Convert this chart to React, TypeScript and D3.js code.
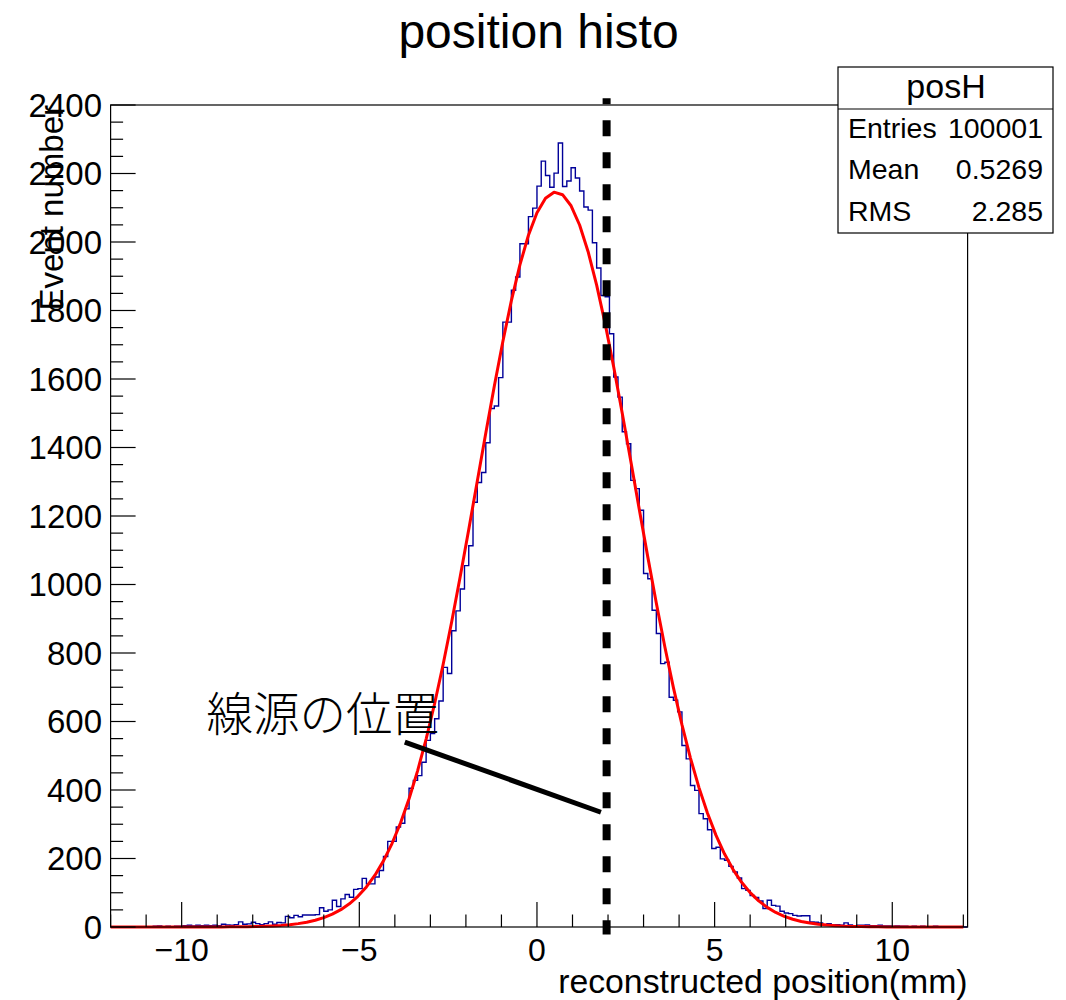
import React, { Component } from 'react';
import * as d3 from 'd3';

// posH : 201 bins of 0.12 mm starting at -12 mm
const binLow = -12;
const binWidth = 0.12;
const binCounts = [
  0, 1, 0, 0, 1, 0, 1, 0, 1, 1,
  2, 3, 1, 2, 1, 2, 2, 4, 5, 3,
  5, 4, 5, 4, 5, 4, 8, 6, 5, 7,
  15, 8, 9, 14, 10, 7, 10, 15, 8, 13,
  12, 31, 27, 34, 30, 35, 35, 35, 36, 56,
  46, 50, 78, 60, 82, 95, 87, 110, 112, 142,
  126, 126, 146, 165, 206, 250, 250, 292, 303, 345,
  405, 428, 442, 481, 545, 565, 608, 660, 758, 740,
  865, 923, 987, 1055, 1113, 1240, 1298, 1327, 1414, 1514,
  1521, 1604, 1766, 1766, 1859, 1898, 1995, 1995, 2074, 2099,
  2163, 2236, 2194, 2160, 2201, 2289, 2162, 2178, 2217, 2187,
  2149, 2102, 2093, 1998, 1924, 1844, 1840, 1732, 1606, 1547,
  1446, 1411, 1304, 1280, 1217, 1032, 1017, 925, 857, 769,
  773, 671, 662, 628, 530, 491, 413, 399, 331, 316,
  284, 229, 233, 199, 195, 177, 161, 143, 112, 107,
  92, 86, 76, 54, 78, 63, 61, 46, 41, 39,
  34, 32, 33, 33, 15, 14, 12, 7, 10, 6,
  7, 5, 12, 6, 4, 5, 5, 6, 4, 4,
  5, 3, 3, 2, 3, 2, 2, 1, 2, 1,
  2, 1, 1, 2, 1, 0, 1, 1, 0, 1,
  0
];

// gaus fit parameters
const fitConstant = 2146;
const fitMean = 0.53;
const fitSigma = 2.21;
const fitRange = [-12, 12];

const xMajorTicks = [-10, -5, 0, 5, 10];
const xTickLabels = ['\u221210', '\u22125', '0', '5', '10'];
const yMajorTicks = [0, 200, 400, 600, 800, 1000, 1200, 1400, 1600, 1800, 2000, 2200, 2400];

const statNames = ['Entries', 'Mean', 'RMS'];
const statValues = ['100001', '0.5269', '2.285'];

// source position marker and annotation (data units)
const sourceX = 1.96;
const sourceSpan = [-22, 2420];
const pointerFrom = [-3.72, 540];
const pointerTo = [1.8, 335];
const noteAt = [-9.3, 572];
const noteText = '線源の位置';

const FONT = 'Liberation Sans, Arial, Helvetica, sans-serif';

class PositionHisto extends Component {
  constructor(props) {
    super(props);
    this.xScale = this.xScale.bind(this);
    this.yScale = this.yScale.bind(this);
  }

  xScale() {
    return d3
      .scaleLinear()
      .domain([binLow, binLow + binWidth * binCounts.length])
      .range([110.6, 967.6]);
  }

  yScale() {
    return d3.scaleLinear().domain([0, 2400]).range([927, 105]);
  }

  render() {
    const x = this.xScale();
    const y = this.yScale();
    const [x0, x1] = x.range();
    const [yb, yt] = y.range();

    const steps = binCounts.map((c, i) => [binLow + i * binWidth, c]);
    steps.push([binLow + binCounts.length * binWidth, binCounts[binCounts.length - 1]]);
    const histPath = d3
      .line()
      .x(d => x(d[0]))
      .y(d => y(d[1]))
      .curve(d3.curveStepAfter)(steps);

    const fitX = d3.range(101).map(i => fitRange[0] + (i * (fitRange[1] - fitRange[0])) / 100);
    const fitPath = d3
      .line()
      .x(d => x(d))
      .y(d => y(fitConstant * Math.exp(-0.5 * ((d - fitMean) / fitSigma) ** 2)))(fitX);

    const yMinor = d3.range(0, 2401, 50);
    const xMinor = d3.range(-12, 12.5, 1);

    return (
      <svg
        width={1066}
        height={1000}
        style={{ position: 'absolute', left: 0, top: 0, background: '#fff' }}>
        <rect x={0} y={0} width={1066} height={1000} fill="#fff" />
        <text x={538.5} y={48} textAnchor="middle" fontFamily={FONT} fontSize={48}>
          position histo
        </text>

        <path d={histPath} fill="none" stroke="#000099" strokeWidth={1.4} />
        <path d={fitPath} fill="none" stroke="#ff0000" strokeWidth={3} strokeLinejoin="round" />

        {/* frame */}
        <rect x={x0} y={yt} width={x1 - x0} height={yb - yt} fill="none" stroke="#000" strokeWidth={1.2} />

        {/* y axis */}
        {yMinor.map(v => (
          <line key={'ym' + v} x1={x0} x2={x0 + (v % 200 === 0 ? 25 : 12.5)} y1={y(v)} y2={y(v)} stroke="#000" strokeWidth={1.2} />
        ))}
        {yMajorTicks.map(v => (
          <text key={'yl' + v} x={102} y={y(v) + 11.8} textAnchor="end" fontFamily={FONT} fontSize={33}>
            {v}
          </text>
        ))}
        <text
          transform={`translate(63,${yt}) rotate(-90)`}
          textAnchor="end"
          fontFamily={FONT}
          fontSize={33}>
          Event number
        </text>

        {/* x axis */}
        {xMinor.map(v => (
          <line key={'xm' + v} x1={x(v)} x2={x(v)} y1={yb} y2={yb - (v % 5 === 0 ? 25 : 12.5)} stroke="#000" strokeWidth={1.2} />
        ))}
        {xMajorTicks.map((v, i) => (
          <text key={'xl' + v} x={x(v)} y={961} textAnchor="middle" fontFamily={FONT} fontSize={32}>
            {xTickLabels[i]}
          </text>
        ))}
        <text x={x1} y={993} textAnchor="end" fontFamily={FONT} fontSize={33.8}>
          reconstructed position(mm)
        </text>

        {/* source position */}
        <line
          x1={x(sourceX)}
          x2={x(sourceX)}
          y1={y(sourceSpan[1])}
          y2={y(sourceSpan[0])}
          stroke="#000"
          strokeWidth={8}
          strokeDasharray="16 16"
          strokeDashoffset={10}
        />
        <line
          x1={x(pointerFrom[0])}
          y1={y(pointerFrom[1])}
          x2={x(pointerTo[0])}
          y2={y(pointerTo[1])}
          stroke="#000"
          strokeWidth={5}
        />
        <text
          x={x(noteAt[0])}
          y={y(noteAt[1])}
          fontFamily="Noto Sans CJK JP, sans-serif"
          fontWeight={300}
          fontSize={46.5}>
          {noteText}
        </text>

        {/* stats box */}
        <rect x={838} y={67} width={215} height={166} fill="#fff" stroke="#000" strokeWidth={1.2} />
        <line x1={838} x2={1053} y1={109} y2={109} stroke="#000" strokeWidth={1.2} />
        <text x={946} y={98} textAnchor="middle" fontFamily={FONT} fontSize={34}>
          posH
        </text>
        {statNames.map((name, i) => (
          <g key={name}>
            <text x={848} y={138 + i * 41.3} fontFamily={FONT} fontSize={28.5}>
              {name}
            </text>
            <text x={1043} y={138 + i * 41.3} textAnchor="end" fontFamily={FONT} fontSize={28.5}>
              {statValues[i]}
            </text>
          </g>
        ))}
      </svg>
    );
  }
}

export default function App() {
  return <PositionHisto />;
}
